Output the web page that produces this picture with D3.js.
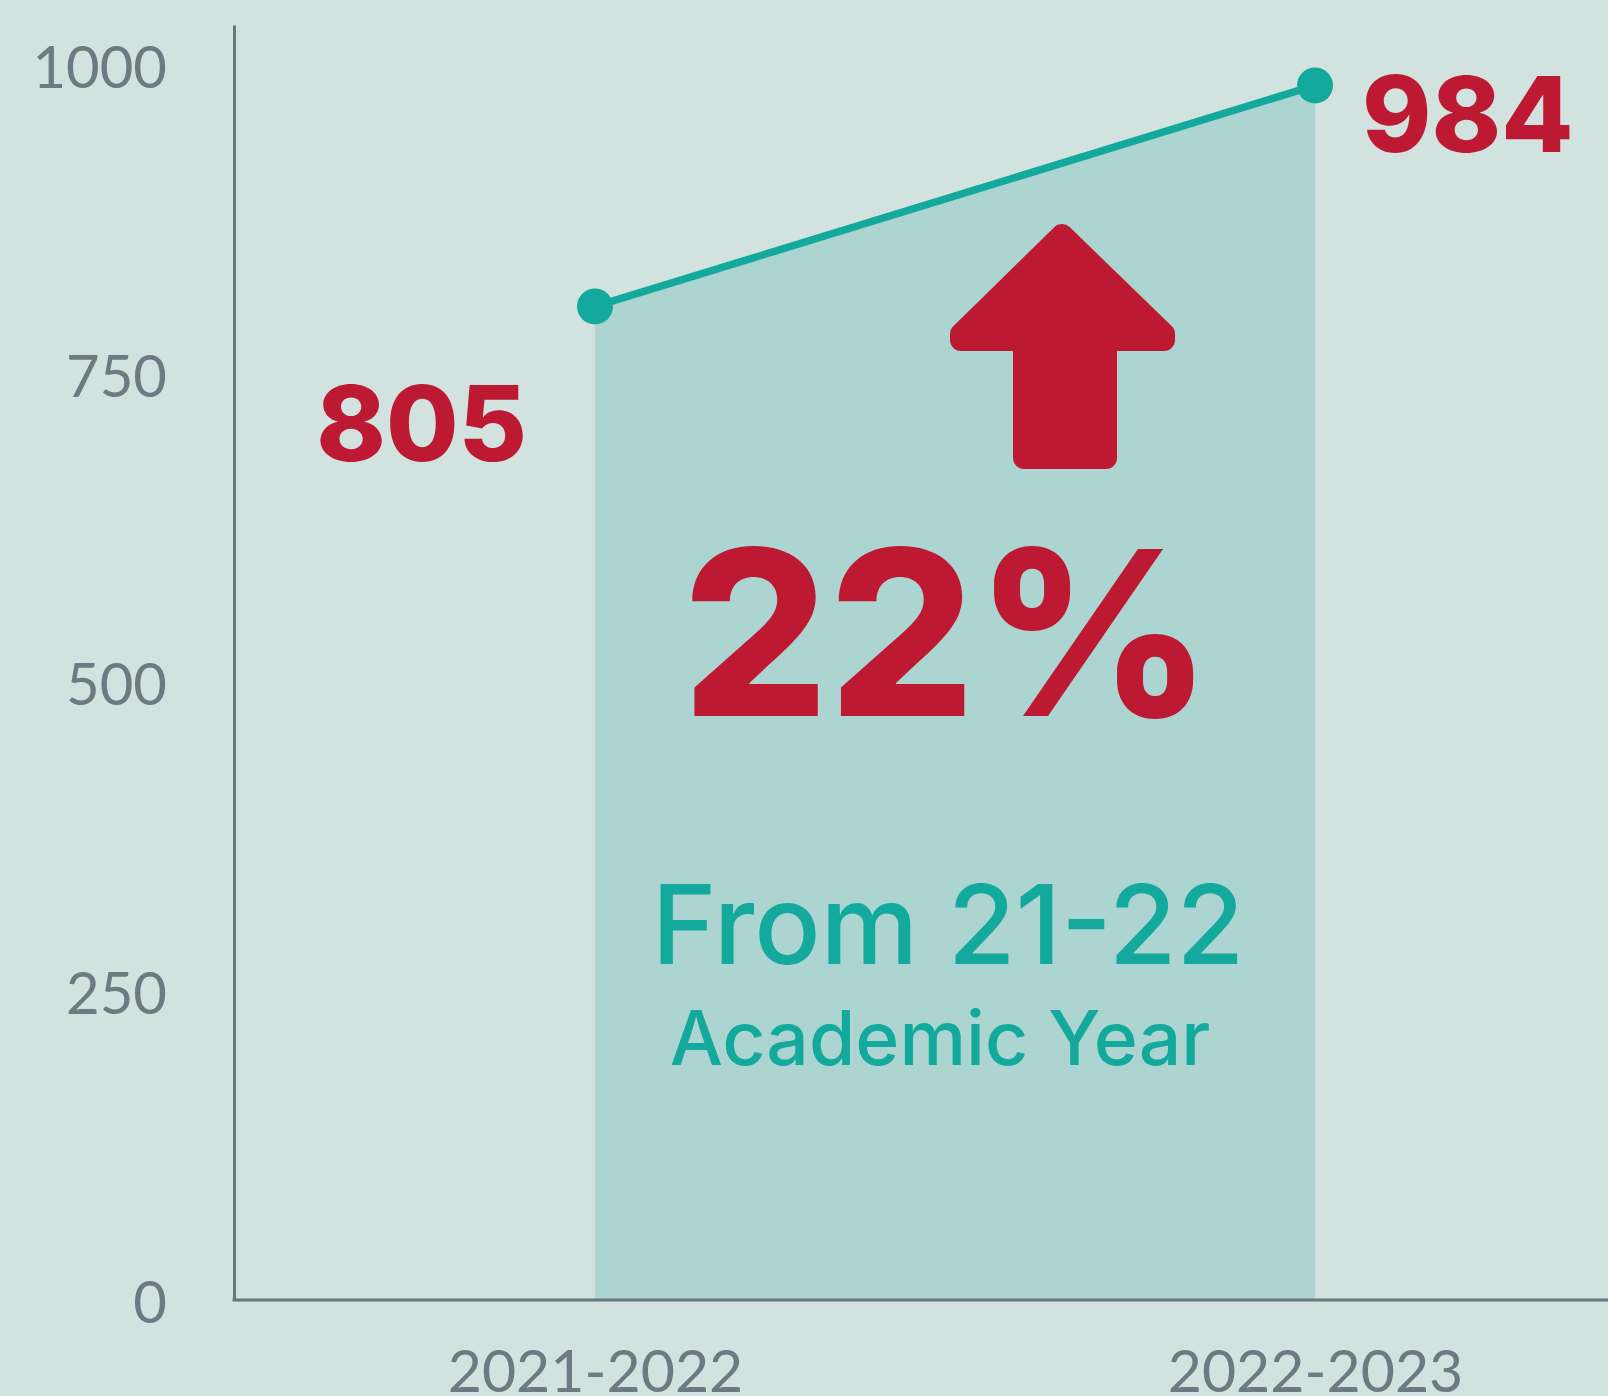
<!DOCTYPE html>
<html>
<head>
<meta charset="utf-8">
<script src="https://cdn.jsdelivr.net/npm/d3@7"></script>
<style>
  html, body { margin: 0; padding: 0; background: #d2e2df; overflow: hidden; }
  svg { display: block; }
  .tick text { font-family: Lato, sans-serif; fill: #6e7981; }
</style>
</head>
<body>
<svg id="chart"></svg>
<script>
// chart values
const years = ['2021-2022', '2022-2023'];
const students = [805, 984];
const yTicks = [0, 250, 500, 750, 1000];
const changeText = '22%';
const noteLines = ['From 21-22', 'Academic Year'];

function draw() {
    var width = 1608;
    var height = 1396;
    var left = 234;
    var bottom = 1300;

    const svg = d3.select('#chart')
        .attr('width', width)
        .attr('height', height);

    svg.append('rect')
        .attr('width', width).attr('height', height)
        .attr('fill', '#d2e2df');

    var xs = d3.scalePoint().domain(years).range([595, 1315]);
    var ys = d3.scaleLinear().domain([0, 1033]).range([bottom, 25]);

    const pts = years.map((d, i) => ({ year: d, value: students[i] }));

    // shaded area under the line
    svg.append('path')
        .datum(pts)
        .attr('fill', '#acd5d2')
        .attr('d', d3.area().x(d => xs(d.year)).y0(ys(0)).y1(d => ys(d.value)));

    // y axis
    const yAxis = svg.append('g')
        .attr('transform', `translate(${left},0)`)
        .call(d3.axisLeft(ys).tickValues(yTicks).tickFormat(d3.format('d'))
            .tickSize(0).tickPadding(67));
    yAxis.select('.domain').attr('stroke', '#6b757d').attr('stroke-width', 3);
    yAxis.selectAll('.tick text').style('font-size', '58px').attr('dy', '0.38em');

    // x axis
    const xAxis = svg.append('g')
        .attr('transform', `translate(0,${bottom})`)
        .call(d3.axisBottom(xs).tickSize(0).tickPadding(50));
    xAxis.select('.domain')
        .attr('d', `M${left - 1.5},0H${width}`)
        .attr('stroke', '#6b757d').attr('stroke-width', 3);
    xAxis.selectAll('.tick text').style('font-size', '59px').attr('dy', '0.71em');

    // line + dots
    svg.append('path')
        .datum(pts)
        .attr('fill', 'none')
        .attr('stroke', '#14a99d')
        .attr('stroke-width', 7.5)
        .attr('d', d3.line().x(d => xs(d.year)).y(d => ys(d.value)));

    svg.selectAll('.dot').data(pts).enter()
        .append('circle')
        .attr('class', 'dot')
        .attr('cx', d => xs(d.year))
        .attr('cy', d => ys(d.value))
        .attr('r', 18)
        .attr('fill', '#14a99d');

    // value labels
    const valueFont = 'Inter, "Noto Sans", sans-serif';
    svg.append('text')
        .attr('x', xs(years[0]) - 68)
        .attr('y', ys(students[0]) + 155)
        .attr('text-anchor', 'end')
        .style('font-family', valueFont).style('font-weight', 800)
        .style('font-size', '105px').attr('fill', '#be1932')
        .text(students[0]);

    svg.append('text')
        .attr('x', xs(years[1]) + 47)
        .attr('y', ys(students[1]) + 67)
        .attr('text-anchor', 'start')
        .style('font-family', valueFont).style('font-weight', 800)
        .style('font-size', '105px').attr('fill', '#be1932')
        .text(students[1]);

    var mid = (xs(years[0]) + xs(years[1])) / 2;

    // up arrow (corners rounded by a round-joined stroke)
    var ax = mid + 107;
    const arrow = [[0, 235], [-101, 334], [-101, 340], [-38, 340], [-38, 458],
                   [44, 458], [44, 340], [102, 340], [102, 334]];
    svg.append('path')
        .attr('d', d3.line()(arrow.map(p => [ax + p[0], p[1]])) + 'Z')
        .attr('fill', '#be1932')
        .attr('stroke', '#be1932')
        .attr('stroke-width', 22)
        .attr('stroke-linejoin', 'round');

    svg.append('text')
        .attr('x', mid - 8)
        .attr('y', 716)
        .attr('text-anchor', 'middle')
        .style('font-family', valueFont).style('font-weight', 800)
        .style('font-size', '230px').attr('fill', '#be1932')
        .text(changeText);

    svg.append('text')
        .attr('x', mid - 7)
        .attr('y', 964)
        .attr('text-anchor', 'middle')
        .style('font-family', valueFont).style('font-weight', 500)
        .style('font-size', '110px').attr('fill', '#14a99d')
        .text(noteLines[0]);

    svg.append('text')
        .attr('x', mid - 15)
        .attr('y', 1065)
        .attr('text-anchor', 'middle')
        .style('font-family', valueFont).style('font-weight', 500)
        .style('font-size', '75px').attr('fill', '#14a99d')
        .text(noteLines[1]);
}

draw();
</script>
</body>
</html>
